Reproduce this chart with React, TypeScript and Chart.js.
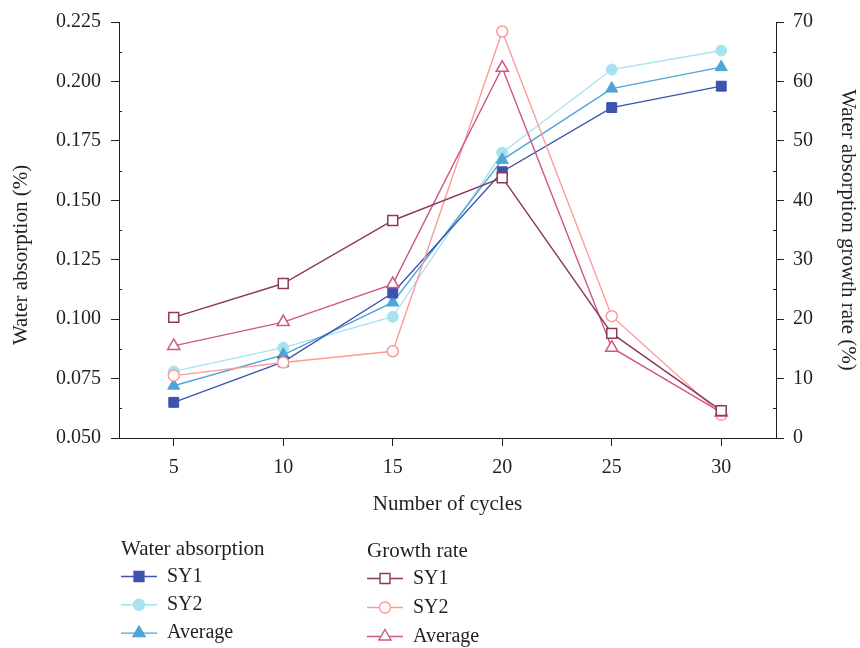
import React, { useEffect, useRef } from "react";
import { Chart, registerables } from "chart.js";

Chart.register(...registerables);

const cycles = [5, 10, 15, 20, 25, 30];
const waterSY1 = [0.065, 0.082, 0.111, 0.162, 0.189, 0.198];
const waterSY2 = [0.078, 0.088, 0.101, 0.17, 0.205, 0.213];
const waterAvg = [0.072, 0.085, 0.107, 0.167, 0.197, 0.206];
const growthSY1 = [20.3, 26.0, 36.6, 43.8, 17.6, 4.6];
const growthSY2 = [10.5, 12.7, 14.6, 68.4, 20.5, 3.9];
const growthAvg = [15.5, 19.5, 25.9, 62.3, 15.2, 4.3];

const xTicks = [5, 10, 15, 20, 25, 30];
const leftTicks = [0.05, 0.075, 0.1, 0.125, 0.15, 0.175, 0.2, 0.225];
const rightTicks = [0, 10, 20, 30, 40, 50, 60, 70];
const seriesNames = ["SY1", "SY2", "Average"];
const legendTitles = ["Water absorption", "Growth rate"];
const leftTitle = "Water absorption (%)";

const FONT = "'Liberation Serif', 'DejaVu Serif', serif";
const FS = 20;
const FT = 21;
const INK = "#231f20";

const colors = {
  wSY1: "#3E52B0",
  wSY2: "#A8E2F0",
  wAvg: "#4DA5D7",
  gSY1: "#8C3A56",
  gSY2: "#FF9A9A",
  gAvg: "#CF5883",
};

const toPts = (arr: number[]) => cycles.map((x, i) => ({ x, y: arr[i] }));

function drawMarker(ctx: CanvasRenderingContext2D, style: string, x: number, y: number, r: number, fill: string, stroke: string, lw: number) {
  ctx.save();
  ctx.beginPath();
  if (style === "rect") {
    const s = Math.SQRT1_2 * r;
    ctx.rect(x - s, y - s, 2 * s, 2 * s);
  } else if (style === "circle") {
    ctx.arc(x, y, r, 0, Math.PI * 2);
  } else {
    const a = (Math.PI * 2) / 3;
    ctx.moveTo(x, y - r);
    ctx.lineTo(x + Math.sin(a) * r, y - Math.cos(a) * r);
    ctx.lineTo(x - Math.sin(a) * r, y - Math.cos(a) * r);
    ctx.closePath();
  }
  ctx.fillStyle = fill;
  ctx.fill();
  ctx.lineWidth = lw;
  ctx.strokeStyle = stroke;
  ctx.stroke();
  ctx.restore();
}

const extras = {
  id: "extras",
  afterDraw(chart: any) {
    const ctx = chart.ctx;
    const ca = chart.chartArea;
    ctx.save();
    ctx.strokeStyle = INK;
    ctx.lineWidth = 1;
    const ys = chart.scales.y;
    for (let i = 0; i < leftTicks.length - 1; i++) {
      const p = Math.round(ys.getPixelForValue((leftTicks[i] + leftTicks[i + 1]) / 2)) + 0.5;
      ctx.beginPath();
      ctx.moveTo(ca.left, p);
      ctx.lineTo(ca.left + 3, p);
      ctx.stroke();
    }
    const ys1 = chart.scales.y1;
    for (let i = 0; i < rightTicks.length - 1; i++) {
      const p = Math.round(ys1.getPixelForValue((rightTicks[i] + rightTicks[i + 1]) / 2)) + 0.5;
      ctx.beginPath();
      ctx.moveTo(ca.right - 3, p);
      ctx.lineTo(ca.right, p);
      ctx.stroke();
    }
    // left axis title
    ctx.save();
    ctx.translate(21, 255);
    ctx.rotate(-Math.PI / 2);
    ctx.font = `${FT}px ${FONT}`;
    ctx.fillStyle = INK;
    ctx.textAlign = "center";
    ctx.textBaseline = "middle";
    ctx.fillText(leftTitle, 0, 0);
    ctx.restore();

    // grouped legend
    const groups = [
      { title: legendTitles[0], x: 121, y: 549, dy: 28.3, ids: [0, 1, 2] },
      { title: legendTitles[1], x: 367, y: 551, dy: 29, ids: [3, 4, 5] },
    ];
    ctx.textBaseline = "middle";
    ctx.textAlign = "left";
    groups.forEach((g) => {
      ctx.font = `${FT}px ${FONT}`;
      ctx.fillStyle = INK;
      ctx.fillText(g.title, g.x, g.y);
      ctx.font = `${FS}px ${FONT}`;
      g.ids.forEach((id, k) => {
        const ds = chart.data.datasets[id];
        const yy = g.y + 27.5 + k * g.dy;
        ctx.beginPath();
        ctx.strokeStyle = ds.borderColor;
        ctx.lineWidth = 1.4;
        ctx.moveTo(g.x, yy);
        ctx.lineTo(g.x + 36, yy);
        ctx.stroke();
        drawMarker(ctx, ds.pointStyle, g.x + 18, yy, ds.pointRadius, ds.pointBackgroundColor, ds.pointBorderColor, 1.4);
        ctx.fillStyle = INK;
        ctx.fillText(seriesNames[k], g.x + 46, yy);
      });
    });
    ctx.restore();
  },
};

export default function App() {
  const ref = useRef<HTMLCanvasElement | null>(null);
  useEffect(() => {
    if (!ref.current) return;
    const mk = (label: string, data: number[], color: string, style: string, r: number, hollow: boolean, axis: string, order: number) => ({
      label,
      data: toPts(data),
      yAxisID: axis,
      borderColor: color,
      backgroundColor: color,
      pointStyle: style,
      pointRadius: r,
      pointHoverRadius: r,
      pointBackgroundColor: hollow ? "#ffffff" : color,
      pointBorderColor: color,
      pointBorderWidth: hollow ? 1.5 : 1,
      borderWidth: 1.4,
      tension: 0,
      order,
    });
    const tickFont = { family: FONT, size: FS };
    const titleFont = { family: FONT, size: FT };
    const grid = { drawOnChartArea: false, drawTicks: true, tickLength: 8, color: INK, tickColor: INK };
    const border = { display: true, color: INK, width: 1 };
    const chart = new Chart(ref.current, {
      type: "line",
      data: {
        datasets: [
          mk("Water absorption SY1", waterSY1, colors.wSY1, "rect", 7, false, "y", 4),
          mk("Water absorption SY2", waterSY2, colors.wSY2, "circle", 5.5, false, "y", 6),
          mk("Water absorption Average", waterAvg, colors.wAvg, "triangle", 7, false, "y", 5),
          mk("Growth rate SY1", growthSY1, colors.gSY1, "rect", 7, true, "y1", 1),
          mk("Growth rate SY2", growthSY2, colors.gSY2, "circle", 5.5, true, "y1", 3),
          mk("Growth rate Average", growthAvg, colors.gAvg, "triangle", 7, true, "y1", 2),
        ] as any,
      },
      plugins: [extras],
      options: {
        responsive: false,
        animation: false,
        layout: { padding: { top: 19, bottom: 130, left: 0, right: 0 } },
        plugins: { legend: { display: false }, tooltip: { enabled: false } },
        scales: {
          x: {
            type: "linear",
            min: 2.5,
            max: 32.5,
            afterBuildTicks: (s: any) => {
              s.ticks = xTicks.map((v) => ({ value: v }));
            },
            afterFit: (s: any) => {
              s.height = 80;
            },
            ticks: { color: INK, font: tickFont, padding: 10, maxRotation: 0 },
            grid,
            border,
            title: { display: true, text: "Number of cycles", color: INK, font: titleFont, padding: { top: 0, bottom: 1 } },
          },
          y: {
            type: "linear",
            position: "left",
            min: 0.05,
            max: 0.225,
            afterBuildTicks: (s: any) => {
              s.ticks = leftTicks.map((v) => ({ value: v }));
            },
            afterFit: (s: any) => {
              s.width = 119;
            },
            ticks: { color: INK, font: tickFont, padding: 10, callback: (v: any) => Number(v).toFixed(3) },
            grid,
            border,
            title: { display: false },
          },
          y1: {
            type: "linear",
            position: "right",
            min: 0,
            max: 70,
            afterBuildTicks: (s: any) => {
              s.ticks = rightTicks.map((v) => ({ value: v }));
            },
            afterFit: (s: any) => {
              s.width = 84;
            },
            ticks: { color: INK, font: tickFont, padding: 9, callback: (v: any) => String(v) },
            grid,
            border,
            title: { display: true, text: "Water absorption growth rate (%)", color: INK, font: titleFont, padding: { top: 0, bottom: 0 } },
          },
        },
      } as any,
    });
    return () => chart.destroy();
  }, []);
  return (
    <div style={{ position: "absolute", left: 0, top: 0, width: 860, height: 648, background: "#fff" }}>
      <canvas ref={ref} width={860} height={648} style={{ display: "block" }} />
    </div>
  );
}
